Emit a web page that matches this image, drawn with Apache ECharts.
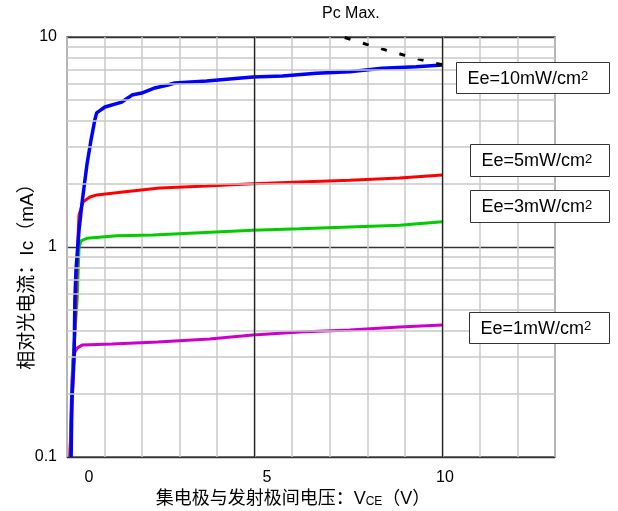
<!DOCTYPE html>
<html>
<head>
<meta charset="utf-8">
<script src="https://cdn.jsdelivr.net/npm/echarts@6/dist/echarts.min.js"></script>
<style>html,body{margin:0;padding:0;background:#fff;}#c{width:618px;height:511px;}</style>
</head>
<body>
<div id="c"></div>
<script>
// ---- data (V_CE in volts, Ic in mA) ----
const ee10 = [[0.11,0.10],[0.13,0.187],[0.19,0.30],[0.21,0.56],[0.24,0.78],[0.32,1.2],[0.40,1.62],[0.53,2.46],[0.64,3.23],[0.74,4.02],[0.79,4.35],[1.01,4.64],[1.46,4.90],[1.73,5.29],[1.99,5.41],[2.34,5.72],[2.69,5.91],[2.87,6.04],[3.72,6.17],[4.95,6.45],[5.74,6.52],[6.64,6.72],[7.53,6.84],[8.40,7.10],[9.30,7.22],[10.0,7.36]];
const ee5 = [[0.08,0.10],[0.16,0.233],[0.24,0.56],[0.29,1.08],[0.32,1.42],[0.43,1.64],[0.61,1.73],[0.80,1.77],[1.49,1.83],[2.47,1.91],[3.72,1.95],[4.95,2.0],[6.2,2.04],[7.53,2.08],[8.86,2.13],[10.0,2.2]];
const ee3 = [[0.08,0.10],[0.16,0.29],[0.27,0.56],[0.32,0.99],[0.37,1.07],[0.53,1.10],[1.33,1.13],[2.29,1.14],[3.54,1.17],[4.95,1.20],[6.2,1.22],[7.53,1.245],[8.86,1.27],[10.0,1.32]];
const ee1 = [[0.08,0.10],[0.106,0.158],[0.133,0.233],[0.16,0.29],[0.21,0.316],[0.27,0.330],[0.40,0.341],[1.2,0.345],[2.42,0.353],[2.87,0.357],[3.80,0.365],[4.95,0.381],[6.2,0.394],[7.53,0.403],[8.86,0.416],[10.0,0.425]];
const pcMax = [[7.4,9.95],[8.0,9.2],[8.5,8.66],[9.0,8.18],[9.5,7.75],[10.05,7.33]];
const xTickLabels = [0,5,10];
const yMinorLines = [0.2,0.3,0.4,0.5,0.6,0.7,0.8,0.9,2,3,4,5,6,7,8,9];
const xMajorLines = [5,10];
const seriesNames = ['Ee=10mW/cm2','Ee=5mW/cm2','Ee=3mW/cm2','Ee=1mW/cm2'];
const boxTexts = ['{a|Ee=10mW/cm}{s|2}','{a|Ee=5mW/cm}{s|2}','{a|Ee=3mW/cm}{s|2}','{a|Ee=1mW/cm}{s|2}'];

const FONT = "'Liberation Sans', Arial, 'Noto Sans CJK SC', sans-serif";
const chart = echarts.init(document.getElementById('c'), null, {renderer:'canvas'});

const gridLines = [];
yMinorLines.forEach(v => gridLines.push({yAxis: v, lineStyle:{color:'#c8c8c8', width:1.5, type:'solid'}}));
xMajorLines.forEach(v => gridLines.push({xAxis: v, lineStyle:{color:'#222', width:1.3, type:'solid'}}));

const richBox = {
  a:{fontSize:18, fontFamily:FONT, color:'#000'},
  s:{fontSize:13, fontFamily:FONT, color:'#000', verticalAlign:'top'}
};
const boxes = [
  {l:456, t:62, w:153, h:31},
  {l:470, t:144, w:139, h:32},
  {l:470, t:190, w:139, h:32},
  {l:469, t:312, w:140, h:31}
];

function lineSeries(name, data, color, width, z) {
  return {name, type:'line', data, symbol:'none', z,
    lineStyle:{color, width}, itemStyle:{color}, animation:false, silent:true};
}

chart.setOption({
  animation:false,
  backgroundColor:'#fff',
  textStyle:{fontFamily:FONT},
  title:{text:'Pc Max.', left:322, top:6, padding:0,
    textStyle:{fontSize:16, fontWeight:'normal', color:'#000', fontFamily:FONT}},
  grid:{left:67, right:63, top:37, bottom:54, show:true, borderColor:'#555', borderWidth:1.5,
    backgroundColor:'transparent', containLabel:false, outerBoundsMode:'none'},
  xAxis:[
    {type:'value', min:0, max:13, interval:1, position:'bottom',
      axisLine:{show:false}, axisTick:{show:false}, axisLabel:{show:false},
      splitLine:{show:true, lineStyle:{color:'#c8c8c8', width:1.5}},
      name:'{a|集电极与发射极间电压：V}{b|CE}{a|（V）}', nameLocation:'middle', nameGap:33,
      nameMoveOverlap:false,
      nameTextStyle:{padding:[0,36,0,0], rich:{
        a:{fontSize:18, fontFamily:FONT, color:'#000'},
        b:{fontSize:12, fontFamily:FONT, color:'#000', verticalAlign:'bottom'}}}},
    {type:'value', min:-0.62, max:13.09, position:'bottom',
      axisLine:{show:false}, axisTick:{show:false}, splitLine:{show:false},
      axisLabel:{customValues:xTickLabels, fontSize:16, color:'#000', margin:13, fontFamily:FONT}}
  ],
  yAxis:{type:'log', logBase:10, min:0.1, max:10,
    axisLine:{show:false}, axisTick:{show:false},
    axisLabel:{fontSize:16, color:'#000', margin:10, fontFamily:FONT},
    splitLine:{show:true, lineStyle:{color:'#333', width:1.3}},
    name:'相对光电流：Ic（mA）', nameLocation:'middle', nameRotate:90, nameGap:30,
    nameMoveOverlap:false,
    nameTextStyle:{fontSize:19, color:'#000', fontFamily:FONT, padding:[0,50,0,0]}},
  series:[
    {name:'grid', type:'line', data:[[0,1]], symbol:'none', lineStyle:{opacity:0}, z:1, silent:true,
      markLine:{silent:true, symbol:['none','none'], label:{show:false}, animation:false, data:gridLines}},
    lineSeries(seriesNames[3], ee1, '#cc00cc', 3, 3),
    lineSeries(seriesNames[2], ee3, '#00cc00', 3, 3),
    lineSeries(seriesNames[1], ee5, '#ff0000', 3, 3),
    lineSeries(seriesNames[0], ee10, '#0000ff', 3.5, 4),
    {name:'Pc Max.', type:'line', data:pcMax, symbol:'none', z:4, silent:true,
      lineStyle:{color:'#000', width:3, type:[6,13]}}
  ],
  graphic: boxes.map((b,i) => ({
    type:'group', left:b.l, top:b.t, z:100, zlevel:1,
    children:[
      {type:'rect', z:100, zlevel:1, shape:{x:0, y:0, width:b.w, height:b.h}, style:{fill:'#ffffff', stroke:'#333', lineWidth:1}},
      {type:'text', z:101, zlevel:1, x:11, y:b.h/2+1, style:{text:boxTexts[i], rich:richBox, verticalAlign:'middle', align:'left', fill:'#000'}}
    ]
  }))
});
</script>
</body>
</html>
